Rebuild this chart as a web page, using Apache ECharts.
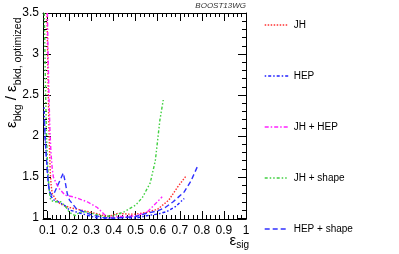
<!DOCTYPE html>
<html><head><meta charset="utf-8">
<script src="https://cdn.jsdelivr.net/npm/echarts@6/dist/echarts.min.js"></script>
<style>html,body{margin:0;padding:0;background:#fff}#c{width:399px;height:254px}</style>
</head><body><div id="c"></div>
<script>
const seriesNames = ['JH', 'HEP', 'JH + HEP', 'JH + shape', 'HEP + shape'];
const dataJH = [[0.098,3.5],[0.101,3.0],[0.104,2.5],[0.107,2.1],[0.110,1.8],[0.113,1.55],[0.117,1.4],[0.122,1.3],[0.14,1.22],[0.16,1.17],[0.2,1.13],[0.25,1.1],[0.3,1.07],[0.33,1.05],[0.37,1.02],[0.4,1.04],[0.42,1.06],[0.46,1.05],[0.5,1.05],[0.55,1.07],[0.6,1.11],[0.65,1.22],[0.69,1.38],[0.73,1.52]];
const dataHEP = [[0.085,2.35],[0.088,2.1],[0.092,1.9],[0.097,1.7],[0.102,1.5],[0.108,1.35],[0.115,1.27],[0.13,1.22],[0.15,1.2],[0.18,1.15],[0.2,1.1],[0.25,1.06],[0.3,1.02],[0.33,1.0],[0.4,1.0],[0.45,1.01],[0.5,1.0],[0.55,1.03],[0.6,1.05],[0.64,1.08],[0.68,1.14],[0.72,1.24]];
const dataJHHEP = [[0.1,3.5],[0.103,3.0],[0.107,2.5],[0.111,2.1],[0.116,1.8],[0.122,1.6],[0.127,1.5],[0.15,1.37],[0.18,1.28],[0.218,1.26],[0.25,1.23],[0.28,1.2],[0.326,1.13],[0.36,1.04],[0.38,1.01],[0.42,1.02],[0.46,1.02],[0.5,1.03],[0.55,1.07],[0.58,1.15],[0.62,1.26]];
const dataJHshape = [[0.086,3.5],[0.089,3.0],[0.092,2.5],[0.096,2.0],[0.1,1.7],[0.105,1.45],[0.11,1.3],[0.115,1.22],[0.13,1.2],[0.16,1.2],[0.18,1.15],[0.2,1.07],[0.225,1.03],[0.245,1.07],[0.27,1.08],[0.3,1.06],[0.35,1.02],[0.4,1.03],[0.45,1.08],[0.5,1.16],[0.53,1.25],[0.566,1.43],[0.589,1.7],[0.61,2.2],[0.625,2.44]];
const dataHEPshape = [[0.086,2.2],[0.09,1.95],[0.095,1.75],[0.1,1.55],[0.105,1.4],[0.11,1.32],[0.12,1.28],[0.13,1.3],[0.15,1.42],[0.172,1.55],[0.18,1.45],[0.19,1.3],[0.2,1.22],[0.23,1.12],[0.27,1.07],[0.3,1.04],[0.35,1.01],[0.4,1.0],[0.45,1.01],[0.5,1.02],[0.55,1.06],[0.6,1.09],[0.634,1.13],[0.67,1.2],[0.72,1.32],[0.75,1.45],[0.78,1.63]];
const xTicks = [0.1,0.2,0.3,0.4,0.5,0.6,0.7,0.8,0.9,1.0];
const xMinorTicks = [0.08,0.12,0.14,0.16,0.18,0.22,0.24,0.26,0.28,0.32,0.34,0.36,0.38,0.42,0.44,0.46,0.48,0.52,0.54,0.56,0.58,0.62,0.64,0.66,0.68,0.72,0.74,0.76,0.78,0.82,0.84,0.86,0.88,0.92,0.94,0.96,0.98];
const yTicks = [1,1.5,2,2.5,3,3.5];
const yMinorTicks = [1.1,1.2,1.3,1.4,1.6,1.7,1.8,1.9,2.1,2.2,2.3,2.4,2.6,2.7,2.8,2.9,3.1,3.2,3.3,3.4];

const FONT = 'Liberation Sans';
const X_MIN = 0.08, X_MAX = 1.0, Y_MIN = 0.99, Y_MAX = 3.5;
const lineC = '#000';

function xAx(pos, vals, len, labels, line) {
  return {type:'value', position:pos, min:X_MIN, max:X_MAX,
    axisLine:{show:line, onZero:false, lineStyle:{color:lineC, width:1}},
    axisTick:{show:true, inside:true, length:len, customValues:vals, lineStyle:{color:lineC}},
    axisLabel:{show:labels, customValues:vals, margin:6, fontSize:12, fontFamily:FONT, color:'#000',
      formatter:v => (Math.abs(v-1)<1e-9 ? '1' : v.toFixed(1))},
    splitLine:{show:false}};
}
function yAx(pos, vals, len, labels, line) {
  return {type:'value', position:pos, min:Y_MIN, max:Y_MAX,
    axisLine:{show:line, onZero:false, lineStyle:{color:lineC, width:1}},
    axisTick:{show:true, inside:true, length:len, customValues:vals, lineStyle:{color:lineC}},
    axisLabel:{show:labels, customValues:vals, margin:4, fontSize:12, fontFamily:FONT, color:'#000',
      formatter:v => (Number.isInteger(v) ? String(v) : v.toFixed(1))},
    splitLine:{show:false}};
}

const styles = [
  {color:'#ff3030', type:[1.5,1.5]},
  {color:'#2020ff', type:[1.5,2,3,2]},
  {color:'#ff20ff', type:[4,2,1.5,2]},
  {color:'#40d040', type:[3,2,1.5,2,1.5,2]},
  {color:'#3030ff', type:[5,3]}
];
const datas = [dataJH, dataHEP, dataJHHEP, dataJHshape, dataHEPshape];

const chart = echarts.init(document.getElementById('c'), null, {renderer:'canvas'});
chart.setOption({
  animation:false,
  backgroundColor:'#fff',
  grid:{left:43, right:153, top:13, bottom:35},
  xAxis:[xAx('bottom', xTicks, 8, true, true), xAx('bottom', xMinorTicks, 4, false, false),
         xAx('top', xTicks, 8, false, true), xAx('top', xMinorTicks, 4, false, false)],
  yAxis:[yAx('left', yTicks, 8, true, true), yAx('left', yMinorTicks, 4, false, false),
         yAx('right', yTicks, 8, false, true), yAx('right', yMinorTicks, 4, false, false)],
  legend:{orient:'vertical', left:259, top:15, itemWidth:24, itemHeight:12, itemGap:41,
    itemStyle:{opacity:0}, lineStyle:{width:1.4},
    data:seriesNames, textStyle:{fontSize:10, fontFamily:FONT, color:'#000'}},
  series: seriesNames.map((n,i) => ({
    name:n, type:'line', data:datas[i], symbol:'none', showSymbol:false,
    xAxisIndex:0, yAxisIndex:0, clip:true,
    lineStyle:{color:styles[i].color, width:1.4, type:styles[i].type},
    itemStyle:{color:styles[i].color}
  })),
  graphic:[
    {type:'text', x:246, y:2, style:{text:'BOOST13WG', align:'right', verticalAlign:'top',
      font:'italic 8px "Liberation Sans"', fill:'#333'}},
    {type:'text', x:14, y:128, rotation:Math.PI/2, style:{
      text:'{e|ε}{s|bkg}{e| / ε}{s|bkd, optimized}', align:'left', verticalAlign:'middle',
      rich:{e:{fontSize:15, fontFamily:FONT, fill:'#000', verticalAlign:'top'},
            s:{fontSize:10.5, fontFamily:FONT, fill:'#000', padding:[8,0,0,0]}}}},
    {type:'text', x:249, y:232, style:{text:'{e|ε}{s|sig}', align:'right', verticalAlign:'top',
      rich:{e:{fontSize:15, fontFamily:FONT, fill:'#000'},
            s:{fontSize:10, fontFamily:FONT, fill:'#000', padding:[8,0,0,0]}}}}
  ]
});
</script></body></html>
